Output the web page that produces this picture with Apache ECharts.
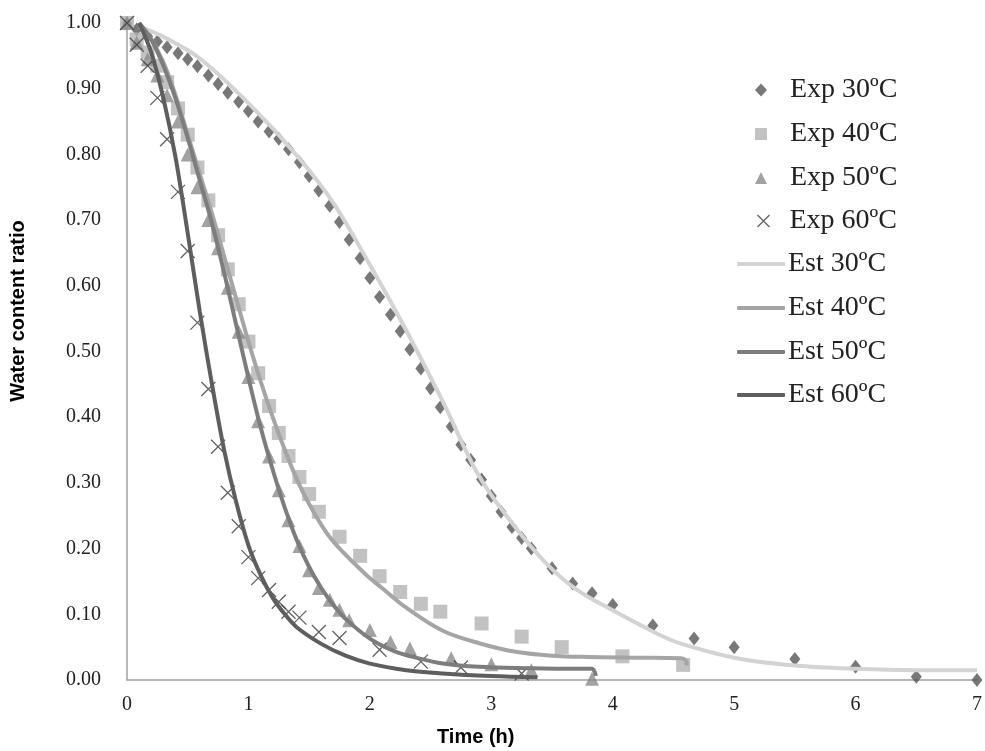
<!DOCTYPE html>
<html>
<head>
<meta charset="utf-8">
<script src="https://cdn.jsdelivr.net/npm/echarts@6/dist/echarts.min.js"></script>
<style>
  html, body { margin: 0; padding: 0; background: #fff; }
  #chart { width: 985px; height: 751px; }
</style>
</head>
<body>
<div id="chart"></div>
<script>
// Drying time (h) and measured water content ratio at each temperature
const timeExp30 = [0, 0.08, 0.17, 0.25, 0.33, 0.42, 0.5, 0.58, 0.67, 0.75, 0.83, 0.92, 1.0, 1.08, 1.17, 1.25, 1.33, 1.42, 1.5, 1.58, 1.67, 1.75, 1.83, 1.92, 2.0, 2.08, 2.17, 2.25, 2.33, 2.42, 2.5, 2.58, 2.67, 2.75, 2.83, 2.92, 3.0, 3.08, 3.17, 3.25, 3.33, 3.5, 3.67, 3.83, 4.0, 4.33, 4.67, 5.0, 5.5, 6.0, 6.5, 7.0];
const ratioExp30 = [1.0, 0.99, 0.98, 0.972, 0.963, 0.954, 0.945, 0.934, 0.92, 0.907, 0.894, 0.88, 0.866, 0.85, 0.835, 0.824, 0.808, 0.788, 0.767, 0.745, 0.722, 0.697, 0.67, 0.642, 0.612, 0.583, 0.556, 0.531, 0.503, 0.474, 0.444, 0.415, 0.386, 0.358, 0.335, 0.305, 0.28, 0.256, 0.233, 0.216, 0.2, 0.17, 0.147, 0.132, 0.114, 0.083, 0.063, 0.05, 0.032, 0.02, 0.005, 0.0];

const timeExp40 = [0, 0.08, 0.17, 0.25, 0.33, 0.42, 0.5, 0.58, 0.67, 0.75, 0.83, 0.92, 1.0, 1.08, 1.17, 1.25, 1.33, 1.42, 1.5, 1.58, 1.75, 1.92, 2.08, 2.25, 2.42, 2.58, 2.92, 3.25, 3.58, 4.08, 4.58];
const ratioExp40 = [1.0, 0.975, 0.955, 0.935, 0.91, 0.87, 0.83, 0.78, 0.73, 0.677, 0.625, 0.572, 0.515, 0.467, 0.417, 0.376, 0.341, 0.309, 0.283, 0.256, 0.218, 0.189, 0.158, 0.134, 0.116, 0.104, 0.086, 0.066, 0.05, 0.036, 0.023];

const timeExp50 = [0, 0.08, 0.17, 0.25, 0.33, 0.42, 0.5, 0.58, 0.67, 0.75, 0.83, 0.92, 1.0, 1.08, 1.17, 1.25, 1.33, 1.42, 1.5, 1.58, 1.67, 1.75, 1.83, 2.0, 2.17, 2.33, 2.67, 3.0, 3.33, 3.83];
const ratioExp50 = [1.0, 0.97, 0.945, 0.92, 0.89, 0.85, 0.8, 0.75, 0.7, 0.657, 0.597, 0.53, 0.461, 0.394, 0.34, 0.289, 0.243, 0.204, 0.167, 0.14, 0.122, 0.107, 0.091, 0.076, 0.058, 0.048, 0.033, 0.024, 0.015, 0.002];

const timeExp60 = [0, 0.08, 0.17, 0.25, 0.33, 0.42, 0.5, 0.58, 0.67, 0.75, 0.83, 0.92, 1.0, 1.08, 1.17, 1.25, 1.33, 1.42, 1.58, 1.75, 2.08, 2.42, 2.75, 3.25];
const ratioExp60 = [1.0, 0.967, 0.935, 0.886, 0.823, 0.743, 0.653, 0.544, 0.443, 0.355, 0.285, 0.234, 0.187, 0.155, 0.137, 0.119, 0.104, 0.095, 0.073, 0.064, 0.046, 0.028, 0.019, 0.010];

// Model estimates
const timeEst30 = [0.1, 0.3, 0.6, 1.0, 1.4, 1.7, 2.0, 2.3, 2.6, 2.9, 3.2, 3.45, 3.7, 4.0, 4.35, 4.55, 5.0, 5.5, 6.0, 6.5, 7.0];
const ratioEst30 = [0.995, 0.979, 0.946, 0.878, 0.798, 0.726, 0.632, 0.532, 0.424, 0.31, 0.232, 0.178, 0.138, 0.106, 0.072, 0.056, 0.034, 0.022, 0.017, 0.015, 0.015];

const timeEst40 = [0.1, 0.2, 0.3, 0.4, 0.5, 0.6, 0.7, 0.8, 0.9, 1.0, 1.1, 1.2, 1.3, 1.4, 1.5, 1.68, 1.97, 2.1, 2.3, 2.6, 2.9, 3.2, 3.5, 3.8, 4.2, 4.56, 4.6, 4.61];
const ratioEst40 = [1.0, 0.975, 0.94, 0.89, 0.83, 0.77, 0.71, 0.645, 0.58, 0.515, 0.455, 0.4, 0.35, 0.305, 0.268, 0.215, 0.16, 0.14, 0.11, 0.075, 0.056, 0.043, 0.037, 0.035, 0.034, 0.033, 0.03, 0.022];

const timeEst50 = [0.1, 0.2, 0.3, 0.4, 0.5, 0.6, 0.7, 0.8, 0.9, 1.0, 1.1, 1.2, 1.3, 1.4, 1.5, 1.6, 1.7, 1.8, 2.0, 2.2, 2.4, 2.6, 2.9, 3.3, 3.7, 3.83, 3.85, 3.86];
const ratioEst50 = [1.0, 0.975, 0.935, 0.885, 0.825, 0.76, 0.695, 0.62, 0.54, 0.46, 0.385, 0.32, 0.262, 0.212, 0.172, 0.14, 0.114, 0.093, 0.063, 0.044, 0.033, 0.025, 0.02, 0.018, 0.017, 0.017, 0.013, 0.006];

const timeEst60 = [0.1, 0.2, 0.3, 0.4, 0.5, 0.6, 0.7, 0.8, 0.9, 1.0, 1.1, 1.2, 1.3, 1.4, 1.6, 1.8, 2.0, 2.3, 2.6, 3.0, 3.38];
const ratioEst60 = [1.0, 0.955, 0.885, 0.795, 0.68, 0.56, 0.45, 0.35, 0.27, 0.205, 0.16, 0.125, 0.1, 0.08, 0.055, 0.037, 0.025, 0.015, 0.01, 0.006, 0.004];

const yTicks = [0, 0.1, 0.2, 0.3, 0.4, 0.5, 0.6, 0.7, 0.8, 0.9, 1.0];
const xTicks = [0, 1, 2, 3, 4, 5, 6, 7];

const SERIF = '"Liberation Serif", "Times New Roman", serif';
const SANS = '"Liberation Sans", Arial, sans-serif';

function pairs(xs, ys) {
  return xs.map((x, i) => [x, ys[i]]);
}

const CROSS = 'path://M0,0L10,10M10,0L0,10';

const expStyles = [
  { name: 'Exp 30ºC', t: timeExp30, v: ratioExp30, symbol: 'diamond', size: [11, 14], style: { color: '#565656' }, pad: 18 },
  { name: 'Exp 40ºC', t: timeExp40, v: ratioExp40, symbol: 'rect', size: 14, style: { color: '#b3b3b3' }, pad: 18 },
  { name: 'Exp 50ºC', t: timeExp50, v: ratioExp50, symbol: 'triangle', size: 14, style: { color: '#8b8b8b' }, pad: 18 },
  { name: 'Exp 60ºC', t: timeExp60, v: ratioExp60, symbol: CROSS, size: 14, style: { color: 'none', borderColor: '#3a3a3a', borderWidth: 1.3 }, pad: 15 }
];

const estStyles = [
  { name: 'Est 30ºC', t: timeEst30, v: ratioEst30, color: '#d3d3d3' },
  { name: 'Est 40ºC', t: timeEst40, v: ratioEst40, color: '#a5a5a5' },
  { name: 'Est 50ºC', t: timeEst50, v: ratioEst50, color: '#7d7d7d' },
  { name: 'Est 60ºC', t: timeEst60, v: ratioEst60, color: '#5e5e5e' }
];

const series = [];
expStyles.forEach(s => {
  series.push({
    name: s.name,
    type: 'scatter',
    data: pairs(s.t, s.v),
    symbol: s.symbol,
    symbolSize: s.size,
    itemStyle: s.style,
    clip: false,
    z: 2
  });
});
estStyles.forEach(s => {
  series.push({
    name: s.name,
    type: 'line',
    data: pairs(s.t, s.v),
    smooth: 0.35,
    symbol: 'none',
    lineStyle: { color: s.color, width: 4 },
    itemStyle: { color: s.color },
    clip: false,
    z: 3
  });
});

// Legend: one entry per row, stacked on the right of the plot
const legendCenters = [90, 134, 178, 221, 264, 308, 352, 395];
const legendFont = { fontFamily: SERIF, fontSize: 28, color: '#222', lineHeight: 28 };
const legends = [];
expStyles.forEach((s, i) => {
  const h = i === 0 ? 13 : 12;
  legends.push({
    data: [{ name: s.name, icon: s.symbol, itemStyle: s.style }],
    left: 755,
    top: legendCenters[i] - 14,
    padding: 0,
    itemWidth: 12,
    itemHeight: h,
    selectedMode: false,
    textStyle: Object.assign({ padding: [0, 0, 0, s.pad] }, legendFont)
  });
});
estStyles.forEach((s, i) => {
  legends.push({
    data: [{ name: s.name, icon: 'roundRect', itemStyle: { color: s.color } }],
    left: 737,
    top: legendCenters[i + 4] - 14,
    padding: 0,
    itemWidth: 48,
    itemHeight: 4,
    selectedMode: false,
    textStyle: Object.assign({ padding: [0, 0, 0, -2] }, legendFont)
  });
});

const chart = echarts.init(document.getElementById('chart'), null, { renderer: 'canvas' });
chart.setOption({
  animation: false,
  backgroundColor: '#ffffff',
  grid: { left: 127, right: 4, top: 23, bottom: 71, containLabel: false },
  legend: legends,
  xAxis: {
    type: 'value',
    min: xTicks[0],
    max: xTicks[xTicks.length - 1],
    interval: 1,
    axisLine: { show: true, lineStyle: { color: '#a0a0a0', width: 1.5 } },
    axisTick: { show: false },
    splitLine: { show: false },
    axisLabel: { fontFamily: SERIF, fontSize: 20, color: '#222', margin: 15 }
  },
  yAxis: {
    type: 'value',
    min: yTicks[0],
    max: yTicks[yTicks.length - 1],
    interval: 0.1,
    axisLine: { show: true, lineStyle: { color: '#a0a0a0', width: 1.5 } },
    axisTick: { show: false },
    splitLine: { show: false },
    axisLabel: {
      fontFamily: SERIF, fontSize: 20, color: '#222', margin: 26,
      formatter: v => v.toFixed(2)
    }
  },
  graphic: [
    {
      type: 'text',
      left: 437,
      top: 727,
      style: { text: 'Time (h)', font: 'bold 20px ' + SANS, fill: '#000' }
    },
    {
      type: 'text',
      x: 8,
      y: 311,
      rotation: Math.PI / 2,
      style: {
        text: 'Water content ratio', font: 'bold 20px ' + SANS, fill: '#000',
        align: 'center', verticalAlign: 'top'
      }
    }
  ],
  series: series
});
</script>
</body>
</html>
